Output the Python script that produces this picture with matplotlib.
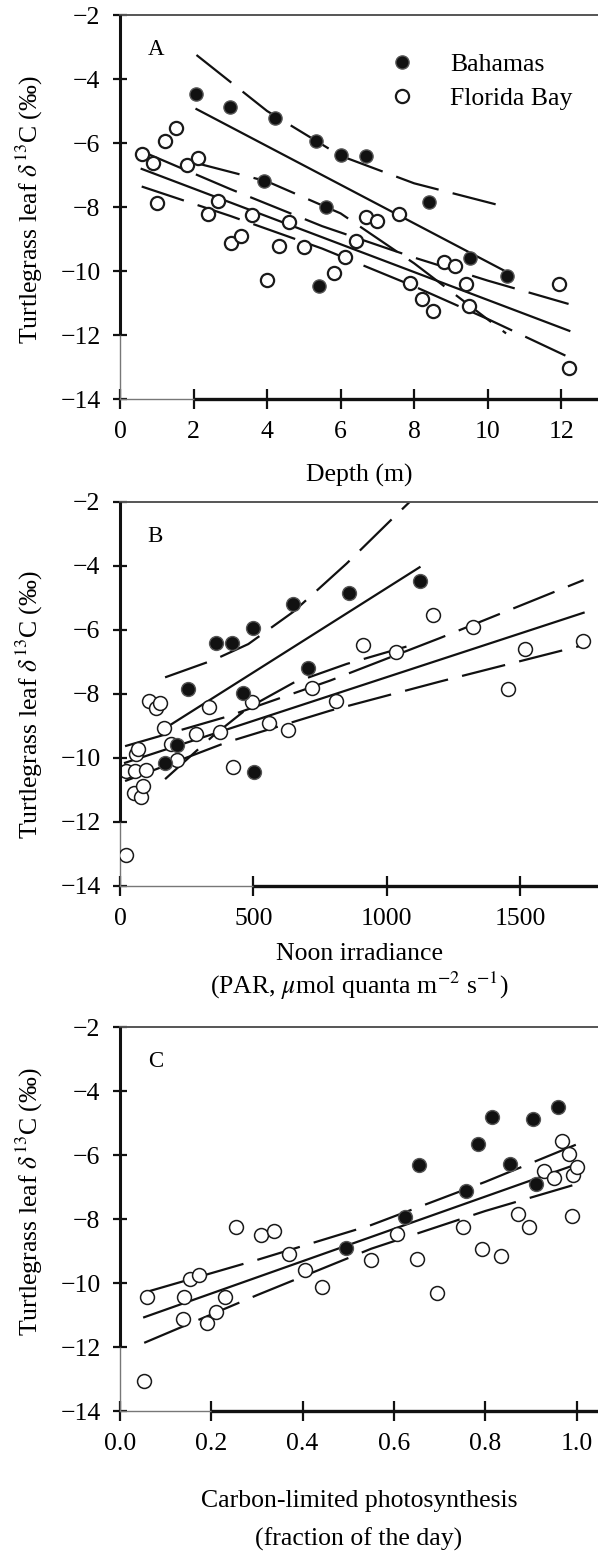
import matplotlib
matplotlib.use("Agg")
import matplotlib.pyplot as plt

plt.rcParams["font.family"] = ["Liberation Serif", "DejaVu Serif"]
plt.rcParams["mathtext.fontset"] = "stix"
plt.rcParams["axes.unicode_minus"] = True

# ---- panel A: depth ----
a_bah_x = [2.08, 3.00, 4.21, 5.32, 6.00, 6.70, 3.91, 5.61, 8.40, 5.40, 9.52, 10.52]
a_bah_y = [-4.48, -4.86, -5.21, -5.94, -6.38, -6.41, -7.19, -7.99, -7.83, -10.46, -9.60, -10.15]
a_fla_x = [0.59, 0.91, 1.22, 1.52, 1.01, 1.81, 2.11, 2.38, 2.67, 3.60, 4.60, 6.70, 6.99, 7.60, 6.41, 3.01,
           3.30, 4.32, 5.00, 4.01, 5.82, 6.11, 7.89, 8.21, 8.51, 8.82, 9.12, 9.41, 9.50, 11.93, 12.22]
a_fla_y = [-6.34, -6.61, -5.93, -5.54, -7.86, -6.69, -6.48, -8.22, -7.81, -8.25, -8.46, -8.32, -8.43, -8.22,
           -9.05, -9.11, -8.90, -9.22, -9.24, -10.28, -10.07, -9.57, -10.39, -10.88, -11.24, -9.73, -9.84,
           -10.41, -11.09, -10.42, -13.04]
a_bah_fit_x = [2.08, 10.50]
a_bah_fit_y = [-4.94, -10.02]
a_bah_ci_x = [2.08, 4.0, 6.0, 8.0, 10.5]
a_bah_upper = [-3.25, -5.00, -6.40, -7.26, -8.00]
a_bah_lower = [-6.63, -7.20, -8.20, -9.76, -11.95]
a_fla_fit_x = [0.59, 12.22]
a_fla_fit_y = [-6.81, -11.87]
a_fla_ci_x = [0.59, 3.0, 5.5, 8.0, 10.0, 12.2]
a_fla_upper = [-6.26, -7.44, -8.60, -9.58, -10.30, -11.03]
a_fla_lower = [-7.36, -8.28, -9.30, -10.48, -11.50, -12.69]

# ---- panel B: noon irradiance ----
b_bah_x = [169, 212, 256, 360, 419, 460, 497, 504, 650, 706, 860, 1123]
b_bah_y = [-10.15, -9.58, -7.84, -6.42, -6.40, -7.98, -5.93, -10.43, -5.20, -7.18, -4.85, -4.46]
b_fla_x = [22, 22, 54, 56, 60, 69, 78, 85, 97, 110, 135, 150, 166, 190, 212, 285, 334, 375, 422, 494,
           559, 629, 719, 809, 910, 1034, 1172, 1325, 1454, 1519, 1734]
b_fla_y = [-10.40, -13.03, -11.10, -10.40, -9.88, -9.73, -11.23, -10.88, -10.38, -8.21, -8.45, -8.29,
           -9.07, -9.56, -10.06, -9.25, -8.42, -9.20, -10.27, -8.24, -8.90, -9.13, -7.80, -8.22, -6.47,
           -6.68, -5.53, -5.92, -7.85, -6.59, -6.33]
b_bah_fit_x = [169, 1123]
b_bah_fit_y = [-9.07, -4.04]
b_bah_ci_x = [169, 350, 481, 650, 850, 1031, 1123]
b_bah_upper = [-7.48, -6.94, -6.44, -5.43, -3.92, -2.44, -1.70]
b_bah_lower = [-10.66, -9.30, -8.43, -7.65, -7.06, -6.62, -6.40]
b_fla_fit_x = [19, 1738]
b_fla_fit_y = [-10.15, -5.46]
b_fla_ci_x = [19, 400, 788, 1200, 1738]
b_fla_upper = [-9.63, -8.71, -7.58, -6.25, -4.44]
b_fla_lower = [-10.72, -9.51, -8.52, -7.61, -6.47]

# ---- panel C: carbon-limited photosynthesis ----
c_bah_x = [0.496, 0.624, 0.655, 0.757, 0.785, 0.814, 0.855, 0.905, 0.911, 0.960]
c_bah_y = [-8.92, -7.93, -6.31, -7.13, -5.66, -4.82, -6.29, -4.88, -6.91, -4.51]
c_fla_x = [0.060, 0.053, 0.153, 0.172, 0.140, 0.137, 0.190, 0.210, 0.230, 0.254, 0.308, 0.337, 0.370,
           0.405, 0.442, 0.549, 0.606, 0.651, 0.695, 0.752, 0.794, 0.834, 0.872, 0.896, 0.990, 0.969,
           0.983, 0.928, 0.951, 0.993, 1.001]
c_fla_y = [-10.45, -13.06, -9.88, -9.75, -10.43, -11.13, -11.26, -10.90, -10.43, -8.24, -8.50, -8.37,
           -9.10, -9.59, -10.11, -9.28, -8.47, -9.25, -10.32, -8.26, -8.95, -9.16, -7.85, -8.24, -7.90,
           -5.56, -5.97, -6.49, -6.71, -6.63, -6.38]
c_fit_x = [0.053, 1.0]
c_fit_y = [-11.07, -6.29]
c_ci_x = [0.053, 0.3, 0.55, 0.8, 1.0]
c_upper = [-10.30, -9.28, -8.19, -6.84, -5.67]
c_lower = [-11.87, -10.38, -8.93, -7.75, -6.91]

y_ticks = [-14, -12, -10, -8, -6, -4, -2]
series_labels = ["Bahamas", "Florida Bay"]
y_label = "Turtlegrass leaf $\\mathit{\\delta}^{13}$C (\u2030)"

FS = 18.5
DASH = (0, (20, 6.5))
W, H = 598, 1553


def style_axis(ax, xlim, xticks, xtick_labels, black_from):
    ax.set_xlim(*xlim)
    ax.set_ylim(-14, -2)
    ax.set_xticks(xticks)
    ax.set_xticklabels(xtick_labels)
    ax.set_yticks(y_ticks)
    ax.spines["right"].set_visible(False)
    ax.spines["top"].set_color("#555555")
    ax.spines["top"].set_linewidth(1.4)
    for side in ("left", "bottom"):
        ax.spines[side].set_color("#777777")
        ax.spines[side].set_linewidth(1.0)
    # heavy axis lines as in the original figure
    ax.plot([0, 0], [-12, -2], color="#111111", lw=2.2, transform=ax.get_yaxis_transform(),
            clip_on=False, zorder=5, solid_capstyle="butt")
    ax.plot([black_from, xlim[1]], [0, 0], color="#111111", lw=2.4, transform=ax.get_xaxis_transform(),
            clip_on=False, zorder=5, solid_capstyle="butt")
    ax.tick_params(axis="x", direction="inout", length=14, width=1.6, pad=9, labelsize=FS, color="#111111")
    ax.tick_params(axis="y", direction="inout", length=10, width=1.6, pad=9, labelsize=FS, color="#111111")


def draw_lines(ax, fit_x, fit_y, ci_x, upper, lower):
    ax.plot(fit_x, fit_y, color="#111111", lw=1.6, zorder=2)
    ax.plot(ci_x, upper, color="#111111", lw=1.6, linestyle=DASH, zorder=2)
    ax.plot(ci_x, lower, color="#111111", lw=1.6, linestyle=DASH, zorder=2)


def draw_points(ax, bx, by, fx, fy, ms=9.5, mew=1.4):
    filled, = ax.plot(bx, by, "o", ms=ms, mfc="#111111", mec="#555555", mew=1.0,
                      linestyle="none", zorder=4, label=series_labels[0])
    hollow, = ax.plot(fx, fy, "o", ms=ms, mfc="white", mec="#1a1a1a", mew=mew,
                      linestyle="none", zorder=3, label=series_labels[1])
    return filled, hollow


fig = plt.figure(figsize=(W / 100, H / 100), dpi=100)
left = 120 / W
width = 1 - left
height = 384 / H
tops = [15, 502, 1027]
axes = [fig.add_axes([left, 1 - (t + 384) / H, width, height]) for t in tops]

# panel A
ax = axes[0]
draw_lines(ax, a_bah_fit_x, a_bah_fit_y, a_bah_ci_x, a_bah_upper, a_bah_lower)
draw_lines(ax, a_fla_fit_x, a_fla_fit_y, a_fla_ci_x, a_fla_upper, a_fla_lower)
handles = draw_points(ax, a_bah_x, a_bah_y, a_fla_x, a_fla_y, ms=9.5, mew=1.6)
style_axis(ax, (0, 13), [0, 2, 4, 6, 8, 10, 12], ["0", "2", "4", "6", "8", "10", "12"], 2)
ax.legend(handles=list(handles), loc="upper left", bbox_to_anchor=(0.557, 0.900), frameon=False,
          fontsize=FS, handlelength=1.2, handletextpad=1.3, labelspacing=0.42, borderpad=0,
          borderaxespad=0)

# panel B
ax = axes[1]
draw_lines(ax, b_bah_fit_x, b_bah_fit_y, b_bah_ci_x, b_bah_upper, b_bah_lower)
draw_lines(ax, b_fla_fit_x, b_fla_fit_y, b_fla_ci_x, b_fla_upper, b_fla_lower)
draw_points(ax, b_bah_x, b_bah_y, b_fla_x, b_fla_y, ms=10, mew=1.1)
style_axis(ax, (0, 1792), [0, 500, 1000, 1500], ["0", "500", "1000", "1500"], 500)

# panel C
ax = axes[2]
draw_lines(ax, c_fit_x, c_fit_y, c_ci_x, c_upper, c_lower)
draw_points(ax, c_bah_x, c_bah_y, c_fla_x, c_fla_y, ms=10, mew=1.1)
style_axis(ax, (0, 1.047), [0, 0.2, 0.4, 0.6, 0.8, 1.0], ["0.0", "0.2", "0.4", "0.6", "0.8", "1.0"], 0.2)

for ax, letter in zip(axes, ["A", "B", "C"]):
    ax.text(0.058, 0.895, letter, transform=ax.transAxes, fontsize=16.5, ha="left", va="baseline")

# y labels
for yc in [210, 705, 1202]:
    fig.text(29 / W, 1 - yc / H, y_label, rotation=90, ha="center", va="center", fontsize=FS)

# x labels
xc = 359 / W
fig.text(xc, 1 - 482 / H, "Depth (m)", ha="center", va="baseline", fontsize=FS)
fig.text(xc, 1 - 960 / H, "Noon irradiance", ha="center", va="baseline", fontsize=FS)
fig.text(xc, 1 - 994 / H, "(PAR, $\\mu$mol quanta m$^{-2}$ s$^{-1}$)", ha="center", va="baseline",
         fontsize=FS)
fig.text(xc, 1 - 1507 / H, "Carbon-limited photosynthesis", ha="center", va="baseline", fontsize=FS)
fig.text(xc, 1 - 1546 / H, "(fraction of the day)", ha="center", va="baseline", fontsize=FS)

fig.savefig("out.png", dpi=100)
